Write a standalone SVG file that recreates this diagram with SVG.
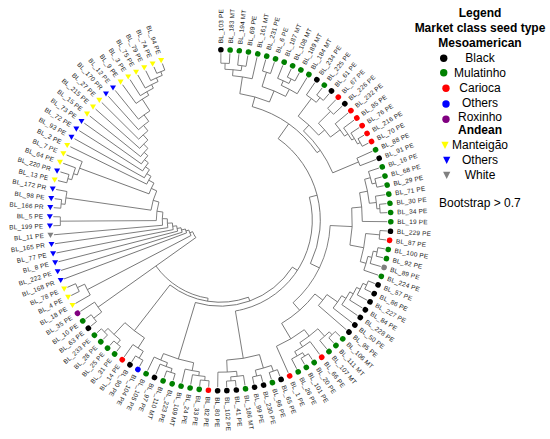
<svg xmlns="http://www.w3.org/2000/svg" width="550" height="439" viewBox="0 0 550 439">
<style>
.tree line,.tree circle{fill:none;stroke:#666;stroke-width:0.8}
.lb{font-family:"Liberation Sans",Arial,sans-serif;font-size:6.4px;letter-spacing:0.2px;fill:#1a1a1a}
.fl{text-anchor:end}
.lg{font-family:"Liberation Sans",Arial,sans-serif;font-size:12px;fill:#000;text-anchor:middle}
.bd{font-weight:bold}
.k{fill:#000}.g{fill:#008000}.r{fill:#ff0000}.b{fill:#0000ff}.p{fill:#800080}.y{fill:#ffff00}.gy{fill:#808080}
</style>
<defs>
<circle id="d" r="2.8"/>
<path id="v" d="M-3,-2.3 L3,-2.3 L0,2.9 Z"/>
<path id="lv" d="M-3.6,-3.2 L3.6,-3.2 L0,4 Z"/>
</defs>
<rect width="550" height="439" fill="#fff"/>
<g id="connectors" class="tree" transform="translate(220.3 220.2)">
<circle r="157" pathLength="360" stroke-dasharray="3.1 360" transform="rotate(-89.8)"/>
<line transform="rotate(-89.8)" x1="157" x2="167"/><line transform="rotate(-86.7)" x1="157" x2="167"/>
<circle r="156" pathLength="360" stroke-dasharray="3.1 360" transform="rotate(-83.6)"/>
<line transform="rotate(-83.6)" x1="156" x2="167"/><line transform="rotate(-80.5)" x1="156" x2="167"/>
<circle r="151" pathLength="360" stroke-dasharray="6.2 360" transform="rotate(-88.25)"/>
<line transform="rotate(-88.25)" x1="151" x2="157"/><line transform="rotate(-82.05)" x1="151" x2="156"/>
<circle r="145" pathLength="360" stroke-dasharray="7.85 360" transform="rotate(-85.15)"/>
<line transform="rotate(-85.15)" x1="145" x2="151"/><line transform="rotate(-77.3)" x1="145" x2="167"/>
<circle r="155" pathLength="360" stroke-dasharray="3.1 360" transform="rotate(-74.2)"/>
<line transform="rotate(-74.2)" x1="155" x2="167"/><line transform="rotate(-71.1)" x1="155" x2="167"/>
<circle r="158" pathLength="360" stroke-dasharray="3.1 360" transform="rotate(-64.9)"/>
<line transform="rotate(-64.9)" x1="158" x2="167"/><line transform="rotate(-61.8)" x1="158" x2="167"/>
<circle r="153" pathLength="360" stroke-dasharray="4.65 360" transform="rotate(-68)"/>
<line transform="rotate(-68)" x1="153" x2="167"/><line transform="rotate(-63.35)" x1="153" x2="158"/>
<circle r="148" pathLength="360" stroke-dasharray="6.975 360" transform="rotate(-65.675)"/>
<line transform="rotate(-65.675)" x1="148" x2="153"/><line transform="rotate(-58.7)" x1="148" x2="167"/>
<circle r="140" pathLength="360" stroke-dasharray="10.46 360" transform="rotate(-72.65)"/>
<line transform="rotate(-72.65)" x1="140" x2="155"/><line transform="rotate(-62.19)" x1="140" x2="148"/>
<circle r="158" pathLength="360" stroke-dasharray="3.1 360" transform="rotate(-52.4)"/>
<line transform="rotate(-52.4)" x1="158" x2="167"/><line transform="rotate(-49.3)" x1="158" x2="167"/>
<circle r="152" pathLength="360" stroke-dasharray="4.65 360" transform="rotate(-55.5)"/>
<line transform="rotate(-55.5)" x1="152" x2="167"/><line transform="rotate(-50.85)" x1="152" x2="158"/>
<circle r="155" pathLength="360" stroke-dasharray="3.1 360" transform="rotate(-46.2)"/>
<line transform="rotate(-46.2)" x1="155" x2="167"/><line transform="rotate(-43.1)" x1="155" x2="167"/>
<circle r="160" pathLength="360" stroke-dasharray="3.1 360" transform="rotate(-30.6)"/>
<line transform="rotate(-30.6)" x1="160" x2="167"/><line transform="rotate(-27.5)" x1="160" x2="167"/>
<circle r="157" pathLength="360" stroke-dasharray="4.65 360" transform="rotate(-33.7)"/>
<line transform="rotate(-33.7)" x1="157" x2="167"/><line transform="rotate(-29.05)" x1="157" x2="160"/>
<circle r="154" pathLength="360" stroke-dasharray="5.425 360" transform="rotate(-36.8)"/>
<line transform="rotate(-36.8)" x1="154" x2="167"/><line transform="rotate(-31.375)" x1="154" x2="157"/>
<circle r="150" pathLength="360" stroke-dasharray="5.91 360" transform="rotate(-40)"/>
<line transform="rotate(-40)" x1="150" x2="167"/><line transform="rotate(-34.09)" x1="150" x2="154"/>
<circle r="138" pathLength="360" stroke-dasharray="7.605 360" transform="rotate(-44.65)"/>
<line transform="rotate(-44.65)" x1="138" x2="155"/><line transform="rotate(-37.045)" x1="138" x2="150"/>
<circle r="150" pathLength="360" stroke-dasharray="3.1 360" transform="rotate(-24.4)"/>
<line transform="rotate(-24.4)" x1="150" x2="167"/><line transform="rotate(-21.3)" x1="150" x2="167"/>
<circle r="160" pathLength="360" stroke-dasharray="3.1 360" transform="rotate(-15)"/>
<line transform="rotate(-15)" x1="160" x2="167"/><line transform="rotate(-11.9)" x1="160" x2="167"/>
<circle r="156" pathLength="360" stroke-dasharray="4.75 360" transform="rotate(-18.2)"/>
<line transform="rotate(-18.2)" x1="156" x2="167"/><line transform="rotate(-13.45)" x1="156" x2="160"/>
<circle r="160" pathLength="360" stroke-dasharray="3.1 360" transform="rotate(-5.7)"/>
<line transform="rotate(-5.7)" x1="160" x2="167"/><line transform="rotate(-2.6)" x1="160" x2="167"/>
<circle r="157" pathLength="360" stroke-dasharray="4.65 360" transform="rotate(-8.8)"/>
<line transform="rotate(-8.8)" x1="157" x2="167"/><line transform="rotate(-4.15)" x1="157" x2="160"/>
<circle r="150" pathLength="360" stroke-dasharray="9.35 360" transform="rotate(-15.825)"/>
<line transform="rotate(-15.825)" x1="150" x2="156"/><line transform="rotate(-6.475)" x1="150" x2="157"/>
<circle r="142" pathLength="360" stroke-dasharray="11.65 360" transform="rotate(-11.15)"/>
<line transform="rotate(-11.15)" x1="142" x2="150"/><line transform="rotate(0.5)" x1="142" x2="167"/>
<circle r="160" pathLength="360" stroke-dasharray="3.1 360" transform="rotate(3.7)"/>
<line transform="rotate(3.7)" x1="160" x2="167"/><line transform="rotate(6.8)" x1="160" x2="167"/>
<circle r="160" pathLength="360" stroke-dasharray="3.1 360" transform="rotate(9.9)"/>
<line transform="rotate(9.9)" x1="160" x2="167"/><line transform="rotate(13)" x1="160" x2="167"/>
<circle r="156" pathLength="360" stroke-dasharray="4.65 360" transform="rotate(11.45)"/>
<line transform="rotate(11.45)" x1="156" x2="160"/><line transform="rotate(16.1)" x1="156" x2="167"/>
<circle r="152" pathLength="360" stroke-dasharray="5.425 360" transform="rotate(13.775)"/>
<line transform="rotate(13.775)" x1="152" x2="156"/><line transform="rotate(19.2)" x1="152" x2="167"/>
<circle r="146" pathLength="360" stroke-dasharray="11.24 360" transform="rotate(5.25)"/>
<line transform="rotate(5.25)" x1="146" x2="160"/><line transform="rotate(16.49)" x1="146" x2="152"/>
<circle r="160" pathLength="360" stroke-dasharray="3.2 360" transform="rotate(22.3)"/>
<line transform="rotate(22.3)" x1="160" x2="167"/><line transform="rotate(25.5)" x1="160" x2="167"/>
<circle r="156" pathLength="360" stroke-dasharray="4.7 360" transform="rotate(23.9)"/>
<line transform="rotate(23.9)" x1="156" x2="160"/><line transform="rotate(28.6)" x1="156" x2="167"/>
<circle r="152" pathLength="360" stroke-dasharray="5.45 360" transform="rotate(26.25)"/>
<line transform="rotate(26.25)" x1="152" x2="156"/><line transform="rotate(31.7)" x1="152" x2="167"/>
<circle r="148" pathLength="360" stroke-dasharray="5.825 360" transform="rotate(28.975)"/>
<line transform="rotate(28.975)" x1="148" x2="152"/><line transform="rotate(34.8)" x1="148" x2="167"/>
<circle r="143" pathLength="360" stroke-dasharray="6.01 360" transform="rotate(31.89)"/>
<line transform="rotate(31.89)" x1="143" x2="148"/><line transform="rotate(37.9)" x1="143" x2="167"/>
<circle r="130" pathLength="360" stroke-dasharray="6.105 360" transform="rotate(34.895)"/>
<line transform="rotate(34.895)" x1="130" x2="143"/><line transform="rotate(41)" x1="130" x2="167"/>
<circle r="160" pathLength="360" stroke-dasharray="3.2 360" transform="rotate(44.1)"/>
<line transform="rotate(44.1)" x1="160" x2="167"/><line transform="rotate(47.3)" x1="160" x2="167"/>
<circle r="156" pathLength="360" stroke-dasharray="4.7 360" transform="rotate(45.7)"/>
<line transform="rotate(45.7)" x1="156" x2="160"/><line transform="rotate(50.4)" x1="156" x2="167"/>
<circle r="160" pathLength="360" stroke-dasharray="3.1 360" transform="rotate(56.6)"/>
<line transform="rotate(56.6)" x1="160" x2="167"/><line transform="rotate(59.7)" x1="160" x2="167"/>
<circle r="156" pathLength="360" stroke-dasharray="4.65 360" transform="rotate(58.15)"/>
<line transform="rotate(58.15)" x1="156" x2="160"/><line transform="rotate(62.8)" x1="156" x2="167"/>
<circle r="151" pathLength="360" stroke-dasharray="6.975 360" transform="rotate(53.5)"/>
<line transform="rotate(53.5)" x1="151" x2="167"/><line transform="rotate(60.475)" x1="151" x2="156"/>
<circle r="146" pathLength="360" stroke-dasharray="8.94 360" transform="rotate(48.05)"/>
<line transform="rotate(48.05)" x1="146" x2="156"/><line transform="rotate(56.99)" x1="146" x2="151"/>
<circle r="138" pathLength="360" stroke-dasharray="13.48 360" transform="rotate(52.52)"/>
<line transform="rotate(52.52)" x1="138" x2="146"/><line transform="rotate(66)" x1="138" x2="167"/>
<circle r="160" pathLength="360" stroke-dasharray="3.1 360" transform="rotate(69.1)"/>
<line transform="rotate(69.1)" x1="160" x2="167"/><line transform="rotate(72.2)" x1="160" x2="167"/>
<circle r="160" pathLength="360" stroke-dasharray="3.1 360" transform="rotate(75.3)"/>
<line transform="rotate(75.3)" x1="160" x2="167"/><line transform="rotate(78.4)" x1="160" x2="167"/>
<circle r="154" pathLength="360" stroke-dasharray="6.2 360" transform="rotate(70.65)"/>
<line transform="rotate(70.65)" x1="154" x2="160"/><line transform="rotate(76.85)" x1="154" x2="160"/>
<circle r="161" pathLength="360" stroke-dasharray="3.2 360" transform="rotate(84.6)"/>
<line transform="rotate(84.6)" x1="161" x2="167"/><line transform="rotate(87.8)" x1="161" x2="167"/>
<circle r="157" pathLength="360" stroke-dasharray="4.7 360" transform="rotate(81.5)"/>
<line transform="rotate(81.5)" x1="157" x2="167"/><line transform="rotate(86.2)" x1="157" x2="161"/>
<circle r="152" pathLength="360" stroke-dasharray="7.05 360" transform="rotate(83.85)"/>
<line transform="rotate(83.85)" x1="152" x2="157"/><line transform="rotate(90.9)" x1="152" x2="167"/>
<circle r="140" pathLength="360" stroke-dasharray="13.625 360" transform="rotate(73.75)"/>
<line transform="rotate(73.75)" x1="140" x2="154"/><line transform="rotate(87.375)" x1="140" x2="152"/>
<circle r="161" pathLength="360" stroke-dasharray="3.1 360" transform="rotate(94)"/>
<line transform="rotate(94)" x1="161" x2="167"/><line transform="rotate(97.1)" x1="161" x2="167"/>
<circle r="157" pathLength="360" stroke-dasharray="4.65 360" transform="rotate(95.55)"/>
<line transform="rotate(95.55)" x1="157" x2="161"/><line transform="rotate(100.2)" x1="157" x2="167"/>
<circle r="153" pathLength="360" stroke-dasharray="5.425 360" transform="rotate(97.875)"/>
<line transform="rotate(97.875)" x1="153" x2="157"/><line transform="rotate(103.3)" x1="153" x2="167"/>
<circle r="160" pathLength="360" stroke-dasharray="3.2 360" transform="rotate(106.4)"/>
<line transform="rotate(106.4)" x1="160" x2="167"/><line transform="rotate(109.6)" x1="160" x2="167"/>
<circle r="156" pathLength="360" stroke-dasharray="4.7 360" transform="rotate(108)"/>
<line transform="rotate(108)" x1="156" x2="160"/><line transform="rotate(112.7)" x1="156" x2="167"/>
<circle r="152" pathLength="360" stroke-dasharray="5.45 360" transform="rotate(110.35)"/>
<line transform="rotate(110.35)" x1="152" x2="156"/><line transform="rotate(115.8)" x1="152" x2="167"/>
<circle r="145" pathLength="360" stroke-dasharray="12.485 360" transform="rotate(100.59)"/>
<line transform="rotate(100.59)" x1="145" x2="153"/><line transform="rotate(113.075)" x1="145" x2="152"/>
<circle r="160" pathLength="360" stroke-dasharray="3.1 360" transform="rotate(118.9)"/>
<line transform="rotate(118.9)" x1="160" x2="167"/><line transform="rotate(122)" x1="160" x2="167"/>
<circle r="152" pathLength="360" stroke-dasharray="4.65 360" transform="rotate(120.45)"/>
<line transform="rotate(120.45)" x1="152" x2="160"/><line transform="rotate(125.1)" x1="152" x2="167"/>
<circle r="161" pathLength="360" stroke-dasharray="3.1 360" transform="rotate(128.3)"/>
<line transform="rotate(128.3)" x1="161" x2="167"/><line transform="rotate(131.4)" x1="161" x2="167"/>
<circle r="161" pathLength="360" stroke-dasharray="3.1 360" transform="rotate(134.5)"/>
<line transform="rotate(134.5)" x1="161" x2="167"/><line transform="rotate(137.6)" x1="161" x2="167"/>
<circle r="156" pathLength="360" stroke-dasharray="6.2 360" transform="rotate(129.85)"/>
<line transform="rotate(129.85)" x1="156" x2="161"/><line transform="rotate(136.05)" x1="156" x2="161"/>
<circle r="160" pathLength="360" stroke-dasharray="3.1 360" transform="rotate(140.7)"/>
<line transform="rotate(140.7)" x1="160" x2="167"/><line transform="rotate(143.8)" x1="160" x2="167"/>
<circle r="150" pathLength="360" stroke-dasharray="4.65 360" transform="rotate(142.25)"/>
<line transform="rotate(142.25)" x1="150" x2="160"/><line transform="rotate(146.9)" x1="150" x2="167"/>
<circle r="140" pathLength="360" stroke-dasharray="10.175 360" transform="rotate(122.775)"/>
<line transform="rotate(122.775)" x1="140" x2="152"/><line transform="rotate(132.95)" x1="140" x2="156"/>
<circle r="128" pathLength="360" stroke-dasharray="13.805 360" transform="rotate(-81.225)"/>
<line transform="rotate(-81.225)" x1="128" x2="145"/><line transform="rotate(-67.42)" x1="128" x2="140"/>
<circle r="130" pathLength="360" stroke-dasharray="12.325 360" transform="rotate(-53.175)"/>
<line transform="rotate(-53.175)" x1="130" x2="152"/><line transform="rotate(-40.85)" x1="130" x2="138"/>
<circle r="122" pathLength="360" stroke-dasharray="24.16 360" transform="rotate(-47.01)"/>
<line transform="rotate(-47.01)" x1="122" x2="130"/><line transform="rotate(-22.85)" x1="122" x2="150"/>
<circle r="118" pathLength="360" stroke-dasharray="39.39 360" transform="rotate(-74.32)"/>
<line transform="rotate(-74.32)" x1="118" x2="128"/><line transform="rotate(-34.93)" x1="118" x2="122"/>
<circle r="132" pathLength="360" stroke-dasharray="16.195 360" transform="rotate(-5.325)"/>
<line transform="rotate(-5.325)" x1="132" x2="142"/><line transform="rotate(10.87)" x1="132" x2="146"/>
<circle r="120" pathLength="360" stroke-dasharray="21.31 360" transform="rotate(37.95)"/>
<line transform="rotate(37.95)" x1="120" x2="130"/><line transform="rotate(59.26)" x1="120" x2="138"/>
<circle r="110" pathLength="360" stroke-dasharray="45.835 360" transform="rotate(2.77)"/>
<line transform="rotate(2.77)" x1="110" x2="132"/><line transform="rotate(48.605)" x1="110" x2="120"/>
<circle r="100" pathLength="360" stroke-dasharray="80.32 360" transform="rotate(-54.63)"/>
<line transform="rotate(-54.63)" x1="100" x2="118"/><line transform="rotate(25.69)" x1="100" x2="110"/>
<circle r="92" pathLength="360" stroke-dasharray="95.03 360" transform="rotate(-14.47)"/>
<line transform="rotate(-14.47)" x1="92" x2="100"/><line transform="rotate(80.56)" x1="92" x2="140"/>
<circle r="86" pathLength="360" stroke-dasharray="73.78 360" transform="rotate(33.05)"/>
<line transform="rotate(33.05)" x1="86" x2="92"/><line transform="rotate(106.83)" x1="86" x2="145"/>
<circle r="82" pathLength="360" stroke-dasharray="57.92 360" transform="rotate(69.94)"/>
<line transform="rotate(69.94)" x1="82" x2="86"/><line transform="rotate(127.86)" x1="82" x2="140"/>
<circle r="79" pathLength="360" stroke-dasharray="45.675 360" transform="rotate(98.9)"/>
<line transform="rotate(98.9)" x1="79" x2="82"/>
<line transform="rotate(144.575)" x1="30" x2="150"/>
<circle r="30" pathLength="360" stroke-dasharray="12.945 360" transform="rotate(144.575)"/>
<line transform="rotate(157.52)" x1="30" x2="33"/>
<circle r="158" pathLength="360" stroke-dasharray="3.1 360" transform="rotate(153.2)"/>
<line transform="rotate(153.2)" x1="158" x2="167"/><line transform="rotate(156.3)" x1="158" x2="167"/>
<circle r="150" pathLength="360" stroke-dasharray="4.65 360" transform="rotate(150.1)"/>
<line transform="rotate(150.1)" x1="150" x2="167"/><line transform="rotate(154.75)" x1="150" x2="158"/>
<circle r="160" pathLength="360" stroke-dasharray="3.1 360" transform="rotate(178.1)"/>
<line transform="rotate(178.1)" x1="160" x2="167"/><line transform="rotate(181.2)" x1="160" x2="167"/>
<circle r="160" pathLength="360" stroke-dasharray="3.1 360" transform="rotate(184.3)"/>
<line transform="rotate(184.3)" x1="160" x2="167"/><line transform="rotate(187.4)" x1="160" x2="167"/>
<circle r="156" pathLength="360" stroke-dasharray="4.75 360" transform="rotate(185.85)"/>
<line transform="rotate(185.85)" x1="156" x2="160"/><line transform="rotate(190.6)" x1="156" x2="167"/>
<circle r="158" pathLength="360" stroke-dasharray="3.1 360" transform="rotate(193.7)"/>
<line transform="rotate(193.7)" x1="158" x2="167"/><line transform="rotate(196.8)" x1="158" x2="167"/>
<circle r="154" pathLength="360" stroke-dasharray="4.65 360" transform="rotate(195.25)"/>
<line transform="rotate(195.25)" x1="154" x2="158"/><line transform="rotate(199.9)" x1="154" x2="167"/>
<circle r="150" pathLength="360" stroke-dasharray="5.425 360" transform="rotate(197.575)"/>
<line transform="rotate(197.575)" x1="150" x2="154"/><line transform="rotate(203)" x1="150" x2="167"/>
<circle r="160" pathLength="360" stroke-dasharray="3.1 360" transform="rotate(246.6)"/>
<line transform="rotate(246.6)" x1="160" x2="167"/><line transform="rotate(249.7)" x1="160" x2="167"/>
<circle r="156" pathLength="360" stroke-dasharray="4.65 360" transform="rotate(243.5)"/>
<line transform="rotate(243.5)" x1="156" x2="167"/><line transform="rotate(248.15)" x1="156" x2="160"/>
<circle r="152" pathLength="360" stroke-dasharray="5.425 360" transform="rotate(240.4)"/>
<line transform="rotate(240.4)" x1="152" x2="167"/><line transform="rotate(245.825)" x1="152" x2="156"/>
<circle r="148" pathLength="360" stroke-dasharray="5.81 360" transform="rotate(237.3)"/>
<line transform="rotate(237.3)" x1="148" x2="167"/><line transform="rotate(243.11)" x1="148" x2="152"/>
<circle r="144" pathLength="360" stroke-dasharray="6.005 360" transform="rotate(234.2)"/>
<line transform="rotate(234.2)" x1="144" x2="167"/><line transform="rotate(240.205)" x1="144" x2="148"/>
<circle r="130" pathLength="360" stroke-dasharray="6.2 360" transform="rotate(231)"/>
<line transform="rotate(231)" x1="130" x2="167"/><line transform="rotate(237.2)" x1="130" x2="144"/>
<circle r="122" pathLength="360" stroke-dasharray="6.2 360" transform="rotate(227.9)"/>
<line transform="rotate(227.9)" x1="122" x2="167"/><line transform="rotate(234.1)" x1="122" x2="130"/>
<circle r="115" pathLength="360" stroke-dasharray="6.2 360" transform="rotate(224.8)"/>
<line transform="rotate(224.8)" x1="115" x2="167"/><line transform="rotate(231)" x1="115" x2="122"/>
<circle r="108" pathLength="360" stroke-dasharray="6.2 360" transform="rotate(221.7)"/>
<line transform="rotate(221.7)" x1="108" x2="167"/><line transform="rotate(227.9)" x1="108" x2="115"/>
<circle r="102" pathLength="360" stroke-dasharray="6.2 360" transform="rotate(218.6)"/>
<line transform="rotate(218.6)" x1="102" x2="167"/><line transform="rotate(224.8)" x1="102" x2="108"/>
<circle r="97" pathLength="360" stroke-dasharray="6.2 360" transform="rotate(215.5)"/>
<line transform="rotate(215.5)" x1="97" x2="167"/><line transform="rotate(221.7)" x1="97" x2="102"/>
<circle r="92" pathLength="360" stroke-dasharray="6.2 360" transform="rotate(212.4)"/>
<line transform="rotate(212.4)" x1="92" x2="167"/><line transform="rotate(218.6)" x1="92" x2="97"/>
<circle r="87" pathLength="360" stroke-dasharray="6.3 360" transform="rotate(209.2)"/>
<line transform="rotate(209.2)" x1="87" x2="167"/><line transform="rotate(215.5)" x1="87" x2="92"/>
<circle r="82" pathLength="360" stroke-dasharray="6.25 360" transform="rotate(206.1)"/>
<line transform="rotate(206.1)" x1="82" x2="167"/><line transform="rotate(212.35)" x1="82" x2="87"/>
<circle r="76" pathLength="360" stroke-dasharray="8.94 360" transform="rotate(200.29)"/>
<line transform="rotate(200.29)" x1="76" x2="150"/><line transform="rotate(209.225)" x1="76" x2="82"/>
<circle r="70" pathLength="360" stroke-dasharray="16.53 360" transform="rotate(188.225)"/>
<line transform="rotate(188.225)" x1="70" x2="156"/><line transform="rotate(204.76)" x1="70" x2="76"/>
<circle r="64" pathLength="360" stroke-dasharray="16.84 360" transform="rotate(179.65)"/>
<line transform="rotate(179.65)" x1="64" x2="160"/><line transform="rotate(196.49)" x1="64" x2="70"/>
<circle r="58" pathLength="360" stroke-dasharray="13.07 360" transform="rotate(175)"/>
<line transform="rotate(175)" x1="58" x2="167"/><line transform="rotate(188.07)" x1="58" x2="64"/>
<circle r="53" pathLength="360" stroke-dasharray="9.635 360" transform="rotate(171.9)"/>
<line transform="rotate(171.9)" x1="53" x2="167"/><line transform="rotate(181.535)" x1="53" x2="58"/>
<circle r="48" pathLength="360" stroke-dasharray="8.02 360" transform="rotate(168.7)"/>
<line transform="rotate(168.7)" x1="48" x2="167"/><line transform="rotate(176.72)" x1="48" x2="53"/>
<circle r="44" pathLength="360" stroke-dasharray="7.11 360" transform="rotate(165.6)"/>
<line transform="rotate(165.6)" x1="44" x2="167"/><line transform="rotate(172.71)" x1="44" x2="48"/>
<circle r="40" pathLength="360" stroke-dasharray="6.655 360" transform="rotate(162.5)"/>
<line transform="rotate(162.5)" x1="40" x2="167"/><line transform="rotate(169.155)" x1="40" x2="44"/>
<circle r="36" pathLength="360" stroke-dasharray="6.43 360" transform="rotate(159.4)"/>
<line transform="rotate(159.4)" x1="36" x2="167"/><line transform="rotate(165.83)" x1="36" x2="40"/>
<circle r="33" pathLength="360" stroke-dasharray="10.19 360" transform="rotate(152.425)"/>
<line transform="rotate(152.425)" x1="33" x2="150"/><line transform="rotate(162.615)" x1="33" x2="36"/>
</g>
<g id="leaves" class="lb" transform="translate(220.3 220.2)">
<g id="BL_103_PE" transform="rotate(-89.8)"><use href="#d" x="170.5" class="k"/><text x="177" dy="2.2">BL_103 PE</text></g>
<g id="BL_183_MT" transform="rotate(-86.7)"><use href="#d" x="170.5" class="g"/><text x="177" dy="2.2">BL_183 MT</text></g>
<g id="BL_194_MT" transform="rotate(-83.6)"><use href="#d" x="170.5" class="g"/><text x="177" dy="2.2">BL_194 MT</text></g>
<g id="BL_69_PE" transform="rotate(-80.5)"><use href="#d" x="170.5" class="g"/><text x="177" dy="2.2">BL_69 PE</text></g>
<g id="BL_161_MT" transform="rotate(-77.3)"><use href="#d" x="170.5" class="g"/><text x="177" dy="2.2">BL_161 MT</text></g>
<g id="BL_231_PE" transform="rotate(-74.2)"><use href="#d" x="170.5" class="g"/><text x="177" dy="2.2">BL_231 PE</text></g>
<g id="BL_6_PE" transform="rotate(-71.1)"><use href="#d" x="170.5" class="g"/><text x="177" dy="2.2">BL_6 PE</text></g>
<g id="BL_187_MT" transform="rotate(-68)"><use href="#d" x="170.5" class="g"/><text x="177" dy="2.2">BL_187 MT</text></g>
<g id="BL_108_MT" transform="rotate(-64.9)"><use href="#d" x="170.5" class="g"/><text x="177" dy="2.2">BL_108 MT</text></g>
<g id="BL_189_MT" transform="rotate(-61.8)"><use href="#d" x="170.5" class="g"/><text x="177" dy="2.2">BL_189 MT</text></g>
<g id="BL_184_MT" transform="rotate(-58.7)"><use href="#d" x="170.5" class="g"/><text x="177" dy="2.2">BL_184 MT</text></g>
<g id="BL_234_PE" transform="rotate(-55.5)"><use href="#d" x="170.5" class="k"/><text x="177" dy="2.2">BL_234 PE</text></g>
<g id="BL_225_PE" transform="rotate(-52.4)"><use href="#d" x="170.5" class="g"/><text x="177" dy="2.2">BL_225 PE</text></g>
<g id="BL_61_PE" transform="rotate(-49.3)"><use href="#d" x="170.5" class="k"/><text x="177" dy="2.2">BL_61 PE</text></g>
<g id="BL_67_PE" transform="rotate(-46.2)"><use href="#d" x="170.5" class="r"/><text x="177" dy="2.2">BL_67 PE</text></g>
<g id="BL_226_PE" transform="rotate(-43.1)"><use href="#d" x="170.5" class="k"/><text x="177" dy="2.2">BL_226 PE</text></g>
<g id="BL_232_PE" transform="rotate(-40)"><use href="#d" x="170.5" class="r"/><text x="177" dy="2.2">BL_232 PE</text></g>
<g id="BL_85_PE" transform="rotate(-36.8)"><use href="#d" x="170.5" class="r"/><text x="177" dy="2.2">BL_85 PE</text></g>
<g id="BL_76_PE" transform="rotate(-33.7)"><use href="#d" x="170.5" class="r"/><text x="177" dy="2.2">BL_76 PE</text></g>
<g id="BL_216_PE" transform="rotate(-30.6)"><use href="#d" x="170.5" class="r"/><text x="177" dy="2.2">BL_216 PE</text></g>
<g id="BL_70_PE" transform="rotate(-27.5)"><use href="#d" x="170.5" class="r"/><text x="177" dy="2.2">BL_70 PE</text></g>
<g id="BL_88_PE" transform="rotate(-24.4)"><use href="#d" x="170.5" class="g"/><text x="177" dy="2.2">BL_88 PE</text></g>
<g id="BL_91_PE" transform="rotate(-21.3)"><use href="#d" x="170.5" class="k"/><text x="177" dy="2.2">BL_91 PE</text></g>
<g id="BL_16_PE" transform="rotate(-18.2)"><use href="#d" x="170.5" class="g"/><text x="177" dy="2.2">BL_16 PE</text></g>
<g id="BL_68_PE" transform="rotate(-15)"><use href="#d" x="170.5" class="g"/><text x="177" dy="2.2">BL_68 PE</text></g>
<g id="BL_29_PE" transform="rotate(-11.9)"><use href="#d" x="170.5" class="g"/><text x="177" dy="2.2">BL_29 PE</text></g>
<g id="BL_71_PE" transform="rotate(-8.8)"><use href="#d" x="170.5" class="g"/><text x="177" dy="2.2">BL_71 PE</text></g>
<g id="BL_30_PE" transform="rotate(-5.7)"><use href="#d" x="170.5" class="g"/><text x="177" dy="2.2">BL_30 PE</text></g>
<g id="BL_34_PE" transform="rotate(-2.6)"><use href="#d" x="170.5" class="g"/><text x="177" dy="2.2">BL_34 PE</text></g>
<g id="BL_19_PE" transform="rotate(0.5)"><use href="#d" x="170.5" class="g"/><text x="177" dy="2.2">BL_19 PE</text></g>
<g id="BL_229_PE" transform="rotate(3.7)"><use href="#d" x="170.5" class="k"/><text x="177" dy="2.2">BL_229 PE</text></g>
<g id="BL_87_PE" transform="rotate(6.8)"><use href="#d" x="170.5" class="r"/><text x="177" dy="2.2">BL_87 PE</text></g>
<g id="BL_100_PE" transform="rotate(9.9)"><use href="#d" x="170.5" class="g"/><text x="177" dy="2.2">BL_100 PE</text></g>
<g id="BL_92_PE" transform="rotate(13)"><use href="#d" x="170.5" class="g"/><text x="177" dy="2.2">BL_92 PE</text></g>
<g id="BL_89_PE" transform="rotate(16.1)"><use href="#d" x="170.5" class="gy"/><text x="177" dy="2.2">BL_89 PE</text></g>
<g id="BL_224_PE" transform="rotate(19.2)"><use href="#d" x="170.5" class="g"/><text x="177" dy="2.2">BL_224 PE</text></g>
<g id="BL_57_PE" transform="rotate(22.3)"><use href="#d" x="170.5" class="k"/><text x="177" dy="2.2">BL_57 PE</text></g>
<g id="BL_86_PE" transform="rotate(25.5)"><use href="#d" x="170.5" class="k"/><text x="177" dy="2.2">BL_86 PE</text></g>
<g id="BL_227_PE" transform="rotate(28.6)"><use href="#d" x="170.5" class="k"/><text x="177" dy="2.2">BL_227 PE</text></g>
<g id="BL_84_PE" transform="rotate(31.7)"><use href="#d" x="170.5" class="k"/><text x="177" dy="2.2">BL_84 PE</text></g>
<g id="BL_228_PE" transform="rotate(34.8)"><use href="#d" x="170.5" class="k"/><text x="177" dy="2.2">BL_228 PE</text></g>
<g id="BL_50_PE" transform="rotate(37.9)"><use href="#d" x="170.5" class="k"/><text x="177" dy="2.2">BL_50 PE</text></g>
<g id="BL_95_PE" transform="rotate(41)"><use href="#d" x="170.5" class="k"/><text x="177" dy="2.2">BL_95 PE</text></g>
<g id="BL_106_MT" transform="rotate(44.1)"><use href="#d" x="170.5" class="g"/><text x="177" dy="2.2">BL_106 MT</text></g>
<g id="BL_111_MT" transform="rotate(47.3)"><use href="#d" x="170.5" class="g"/><text x="177" dy="2.2">BL_111 MT</text></g>
<g id="BL_107_MT" transform="rotate(50.4)"><use href="#d" x="170.5" class="g"/><text x="177" dy="2.2">BL_107 MT</text></g>
<g id="BL_66_PE" transform="rotate(53.5)"><use href="#d" x="170.5" class="r"/><text x="177" dy="2.2">BL_66 PE</text></g>
<g id="BL_20_PE" transform="rotate(56.6)"><use href="#d" x="170.5" class="g"/><text x="177" dy="2.2">BL_20 PE</text></g>
<g id="BL_101_PE" transform="rotate(59.7)"><use href="#d" x="170.5" class="g"/><text x="177" dy="2.2">BL_101 PE</text></g>
<g id="BL_26_PE" transform="rotate(62.8)"><use href="#d" x="170.5" class="g"/><text x="177" dy="2.2">BL_26 PE</text></g>
<g id="BL_1_PE" transform="rotate(66)"><use href="#d" x="170.5" class="r"/><text x="177" dy="2.2">BL_1 PE</text></g>
<g id="BL_65_PE" transform="rotate(69.1)"><use href="#d" x="170.5" class="k"/><text x="177" dy="2.2">BL_65 PE</text></g>
<g id="BL_96_PE" transform="rotate(72.2)"><use href="#d" x="170.5" class="g"/><text x="177" dy="2.2">BL_96 PE</text></g>
<g id="BL_230_PE" transform="rotate(75.3)"><use href="#d" x="170.5" class="k"/><text x="177" dy="2.2">BL_230 PE</text></g>
<g id="BL_99_PE" transform="rotate(78.4)"><use href="#d" x="170.5" class="k"/><text x="177" dy="2.2">BL_99 PE</text></g>
<g id="BL_186_MT" transform="rotate(81.5)"><use href="#d" x="170.5" class="g"/><text x="177" dy="2.2">BL_186 MT</text></g>
<g id="BL_41_PE" transform="rotate(84.6)"><use href="#d" x="170.5" class="k"/><text x="177" dy="2.2">BL_41 PE</text></g>
<g id="BL_102_PE" transform="rotate(87.8)"><use href="#d" x="170.5" class="k"/><text x="177" dy="2.2">BL_102 PE</text></g>
<g id="BL_80_PE" transform="rotate(90.9)"><use href="#d" x="170.5" class="k"/><text x="177" dy="2.2">BL_80 PE</text></g>
<g id="BL_82_PE" transform="rotate(94)"><use href="#d" x="170.5" class="r"/><text x="177" dy="2.2">BL_82 PE</text></g>
<g id="BL_33_PE" transform="rotate(97.1)"><use href="#d" x="170.5" class="g"/><text x="177" dy="2.2">BL_33 PE</text></g>
<g id="BL_24_PE" transform="rotate(100.2)"><use href="#d" x="170.5" class="g"/><text x="177" dy="2.2">BL_24 PE</text></g>
<g id="BL_109_MT" transform="rotate(103.3)"><use href="#d" x="170.5" class="g"/><text x="177" dy="2.2">BL_109 MT</text></g>
<g id="BL_223_PE" transform="rotate(106.4)"><use href="#d" x="170.5" class="g"/><text x="177" dy="2.2">BL_223 PE</text></g>
<g id="BL_110_MT" transform="rotate(109.6)"><use href="#d" x="170.5" class="g"/><text x="177" dy="2.2">BL_110 MT</text></g>
<g id="BL_97_PE" transform="rotate(112.7)"><use href="#d" x="170.5" class="k"/><text x="177" dy="2.2">BL_97 PE</text></g>
<g id="BL_105_PE" transform="rotate(115.8)"><use href="#d" x="170.5" class="g"/><text x="177" dy="2.2">BL_105 PE</text></g>
<g id="BL_104_PE" transform="rotate(118.9)"><use href="#d" x="170.5" class="b"/><text x="177" dy="2.2">BL_104 PE</text></g>
<g id="BL_90_PE" transform="rotate(122)"><use href="#d" x="170.5" class="k"/><text x="177" dy="2.2">BL_90 PE</text></g>
<g id="BL_14_PE" transform="rotate(125.1)"><use href="#d" x="170.5" class="r"/><text x="177" dy="2.2" class="fl" transform="rotate(180 177 0)">BL_14 PE</text></g>
<g id="BL_31_PE" transform="rotate(128.3)"><use href="#d" x="170.5" class="g"/><text x="177" dy="2.2" class="fl" transform="rotate(180 177 0)">BL_31 PE</text></g>
<g id="BL_25_PE" transform="rotate(131.4)"><use href="#d" x="170.5" class="g"/><text x="177" dy="2.2" class="fl" transform="rotate(180 177 0)">BL_25 PE</text></g>
<g id="BL_28_PE" transform="rotate(134.5)"><use href="#d" x="170.5" class="g"/><text x="177" dy="2.2" class="fl" transform="rotate(180 177 0)">BL_28 PE</text></g>
<g id="BL_233_PE" transform="rotate(137.6)"><use href="#d" x="170.5" class="g"/><text x="177" dy="2.2" class="fl" transform="rotate(180 177 0)">BL_233 PE</text></g>
<g id="BL_63_PE" transform="rotate(140.7)"><use href="#d" x="170.5" class="k"/><text x="177" dy="2.2" class="fl" transform="rotate(180 177 0)">BL_63 PE</text></g>
<g id="BL_10_PE" transform="rotate(143.8)"><use href="#d" x="170.5" class="g"/><text x="177" dy="2.2" class="fl" transform="rotate(180 177 0)">BL_10 PE</text></g>
<g id="BL_35_PE" transform="rotate(146.9)"><use href="#d" x="170.5" class="p"/><text x="177" dy="2.2" class="fl" transform="rotate(180 177 0)">BL_35 PE</text></g>
<g id="BL_18_PE" transform="rotate(150.1)"><use href="#v" transform="translate(170.5 0) rotate(-150.1)" class="y"/><text x="177" dy="2.2" class="fl" transform="rotate(180 177 0)">BL_18 PE</text></g>
<g id="BL_4_PE" transform="rotate(153.2)"><use href="#v" transform="translate(170.5 0) rotate(-153.2)" class="y"/><text x="177" dy="2.2" class="fl" transform="rotate(180 177 0)">BL_4 PE</text></g>
<g id="BL_78_PE" transform="rotate(156.3)"><use href="#v" transform="translate(170.5 0) rotate(-156.3)" class="y"/><text x="177" dy="2.2" class="fl" transform="rotate(180 177 0)">BL_78 PE</text></g>
<g id="BL_168_PR" transform="rotate(159.4)"><use href="#v" transform="translate(170.5 0) rotate(-159.4)" class="b"/><text x="177" dy="2.2" class="fl" transform="rotate(180 177 0)">BL_168 PR</text></g>
<g id="BL_222_PE" transform="rotate(162.5)"><use href="#v" transform="translate(170.5 0) rotate(-162.5)" class="b"/><text x="177" dy="2.2" class="fl" transform="rotate(180 177 0)">BL_222 PE</text></g>
<g id="BL_8_PE" transform="rotate(165.6)"><use href="#v" transform="translate(170.5 0) rotate(-165.6)" class="b"/><text x="177" dy="2.2" class="fl" transform="rotate(180 177 0)">BL_8 PE</text></g>
<g id="BL_77_PE" transform="rotate(168.7)"><use href="#v" transform="translate(170.5 0) rotate(-168.7)" class="b"/><text x="177" dy="2.2" class="fl" transform="rotate(180 177 0)">BL_77 PE</text></g>
<g id="BL_165_PR" transform="rotate(171.9)"><use href="#v" transform="translate(170.5 0) rotate(-171.9)" class="b"/><text x="177" dy="2.2" class="fl" transform="rotate(180 177 0)">BL_165 PR</text></g>
<g id="BL_11_PE" transform="rotate(175)"><use href="#v" transform="translate(170.5 0) rotate(-175)" class="gy"/><text x="177" dy="2.2" class="fl" transform="rotate(180 177 0)">BL_11 PE</text></g>
<g id="BL_199_PE" transform="rotate(178.1)"><use href="#v" transform="translate(170.5 0) rotate(-178.1)" class="b"/><text x="177" dy="2.2" class="fl" transform="rotate(180 177 0)">BL_199 PE</text></g>
<g id="BL_5_PE" transform="rotate(181.2)"><use href="#v" transform="translate(170.5 0) rotate(-181.2)" class="b"/><text x="177" dy="2.2" class="fl" transform="rotate(180 177 0)">BL_5 PE</text></g>
<g id="BL_166_PR" transform="rotate(184.3)"><use href="#v" transform="translate(170.5 0) rotate(-184.3)" class="b"/><text x="177" dy="2.2" class="fl" transform="rotate(180 177 0)">BL_166 PR</text></g>
<g id="BL_98_PE" transform="rotate(187.4)"><use href="#v" transform="translate(170.5 0) rotate(-187.4)" class="b"/><text x="177" dy="2.2" class="fl" transform="rotate(180 177 0)">BL_98 PE</text></g>
<g id="BL_172_PR" transform="rotate(190.6)"><use href="#v" transform="translate(170.5 0) rotate(-190.6)" class="b"/><text x="177" dy="2.2" class="fl" transform="rotate(180 177 0)">BL_172 PR</text></g>
<g id="BL_13_PE" transform="rotate(193.7)"><use href="#v" transform="translate(170.5 0) rotate(-193.7)" class="y"/><text x="177" dy="2.2" class="fl" transform="rotate(180 177 0)">BL_13 PE</text></g>
<g id="BL_220_PR" transform="rotate(196.8)"><use href="#v" transform="translate(170.5 0) rotate(-196.8)" class="b"/><text x="177" dy="2.2" class="fl" transform="rotate(180 177 0)">BL_220 PR</text></g>
<g id="BL_64_PE" transform="rotate(199.9)"><use href="#v" transform="translate(170.5 0) rotate(-199.9)" class="y"/><text x="177" dy="2.2" class="fl" transform="rotate(180 177 0)">BL_64 PE</text></g>
<g id="BL_7_PE" transform="rotate(203)"><use href="#v" transform="translate(170.5 0) rotate(-203)" class="y"/><text x="177" dy="2.2" class="fl" transform="rotate(180 177 0)">BL_7 PE</text></g>
<g id="BL_2_PE" transform="rotate(206.1)"><use href="#v" transform="translate(170.5 0) rotate(-206.1)" class="y"/><text x="177" dy="2.2" class="fl" transform="rotate(180 177 0)">BL_2 PE</text></g>
<g id="BL_93_PE" transform="rotate(209.2)"><use href="#v" transform="translate(170.5 0) rotate(-209.2)" class="b"/><text x="177" dy="2.2" class="fl" transform="rotate(180 177 0)">BL_93 PE</text></g>
<g id="BL_72_PE" transform="rotate(212.4)"><use href="#v" transform="translate(170.5 0) rotate(-212.4)" class="b"/><text x="177" dy="2.2" class="fl" transform="rotate(180 177 0)">BL_72 PE</text></g>
<g id="BL_73_PE" transform="rotate(215.5)"><use href="#v" transform="translate(170.5 0) rotate(-215.5)" class="b"/><text x="177" dy="2.2" class="fl" transform="rotate(180 177 0)">BL_73 PE</text></g>
<g id="BL_15_PE" transform="rotate(218.6)"><use href="#v" transform="translate(170.5 0) rotate(-218.6)" class="y"/><text x="177" dy="2.2" class="fl" transform="rotate(180 177 0)">BL_15 PE</text></g>
<g id="BL_215_PE" transform="rotate(221.7)"><use href="#v" transform="translate(170.5 0) rotate(-221.7)" class="y"/><text x="177" dy="2.2" class="fl" transform="rotate(180 177 0)">BL_215 PE</text></g>
<g id="BL_27_PE" transform="rotate(224.8)"><use href="#v" transform="translate(170.5 0) rotate(-224.8)" class="y"/><text x="177" dy="2.2" class="fl" transform="rotate(180 177 0)">BL_27 PE</text></g>
<g id="BL_170_PR" transform="rotate(227.9)"><use href="#v" transform="translate(170.5 0) rotate(-227.9)" class="b"/><text x="177" dy="2.2" class="fl" transform="rotate(180 177 0)">BL_170 PR</text></g>
<g id="BL_12_PE" transform="rotate(231)"><use href="#v" transform="translate(170.5 0) rotate(-231)" class="b"/><text x="177" dy="2.2" class="fl" transform="rotate(180 177 0)">BL_12 PE</text></g>
<g id="BL_9_PE" transform="rotate(234.2)"><use href="#v" transform="translate(170.5 0) rotate(-234.2)" class="y"/><text x="177" dy="2.2" class="fl" transform="rotate(180 177 0)">BL_9 PE</text></g>
<g id="BL_3_PE" transform="rotate(237.3)"><use href="#v" transform="translate(170.5 0) rotate(-237.3)" class="y"/><text x="177" dy="2.2" class="fl" transform="rotate(180 177 0)">BL_3 PE</text></g>
<g id="BL_75_PE" transform="rotate(240.4)"><use href="#v" transform="translate(170.5 0) rotate(-240.4)" class="y"/><text x="177" dy="2.2" class="fl" transform="rotate(180 177 0)">BL_75 PE</text></g>
<g id="BL_79_PE" transform="rotate(243.5)"><use href="#v" transform="translate(170.5 0) rotate(-243.5)" class="y"/><text x="177" dy="2.2" class="fl" transform="rotate(180 177 0)">BL_79 PE</text></g>
<g id="BL_74_PE" transform="rotate(246.6)"><use href="#v" transform="translate(170.5 0) rotate(-246.6)" class="y"/><text x="177" dy="2.2" class="fl" transform="rotate(180 177 0)">BL_74 PE</text></g>
<g id="BL_94_PE" transform="rotate(249.7)"><use href="#v" transform="translate(170.5 0) rotate(-249.7)" class="y"/><text x="177" dy="2.2" class="fl" transform="rotate(180 177 0)">BL_94 PE</text></g>
</g>
<g id="legend" class="lg">
<text x="480" y="17" class="bd">Legend</text>
<text x="480" y="32" class="bd">Market class seed type</text>
<text x="480" y="46.5" class="bd">Mesoamerican</text>
<circle cx="443.7" cy="58.3" r="3.7" class="k"/><text x="480" y="62">Black</text>
<circle cx="443.7" cy="72.7" r="3.7" class="g"/><text x="480" y="76.5">Mulatinho</text>
<circle cx="446" cy="88.3" r="3.7" class="r"/><text x="480" y="91.5">Carioca</text>
<circle cx="446" cy="104" r="3.7" class="b"/><text x="480" y="106.5">Others</text>
<circle cx="446" cy="119.3" r="3.7" class="p"/><text x="480" y="121">Roxinho</text>
<text x="480" y="133.5" class="bd">Andean</text>
<use href="#lv" x="445" y="145" class="y"/><text x="480" y="148.5">Manteigão</text>
<use href="#lv" x="446.7" y="160" class="b"/><text x="480" y="163.5">Others</text>
<use href="#lv" x="446.7" y="175" class="gy"/><text x="480" y="178.5">White</text>
<text x="439" y="207" style="text-anchor:start">Bootstrap &gt; 0.7</text>
</g>
</svg>
